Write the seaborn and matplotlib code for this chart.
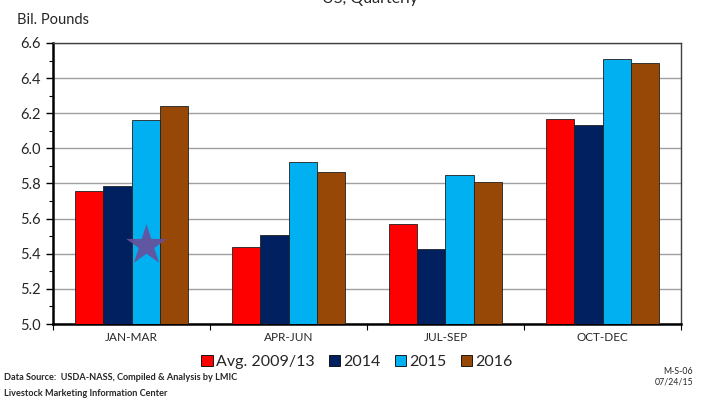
import matplotlib
matplotlib.use("Agg")
import matplotlib.pyplot as plt
import seaborn as sns
import pandas as pd
from matplotlib.patches import Patch
from matplotlib.ticker import MultipleLocator, FixedLocator

quarters = ["JAN-MAR", "APR-JUN", "JUL-SEP", "OCT-DEC"]
series = ["Avg. 2009/13", "2014", "2015", "2016"]
avg_0913 = [5.756, 5.437, 5.568, 6.165]
y2014 = [5.784, 5.507, 5.425, 6.131]
y2015 = [6.160, 5.924, 5.850, 6.507]
y2016 = [6.240, 5.867, 5.810, 6.484]
colors = ["#FF0000", "#002060", "#00B0F0", "#974706"]
yticks = [5.0, 5.2, 5.4, 5.6, 5.8, 6.0, 6.2, 6.4, 6.6]

rows = []
for s, vals in zip(series, [avg_0913, y2014, y2015, y2016]):
    for q, v in zip(quarters, vals):
        rows.append({"Quarter": q, "Series": s, "Value": v})
df = pd.DataFrame(rows)

sns.set_theme(style="white")
plt.rcParams["font.family"] = ["Lato", "DejaVu Sans"]

fig = plt.figure(figsize=(7.11, 4.03), dpi=100)
ax = fig.add_axes([53/711, 1-324/403, (681-53)/711, (324-43)/403])

sns.barplot(data=df, x="Quarter", y="Value", hue="Series", order=quarters,
            hue_order=series, palette=colors, saturation=1, width=0.72, dodge=True,
            edgecolor="#202020", linewidth=0.6, ax=ax, legend=False, zorder=3)

ax.set_ylim(5.0, 6.6)
ax.set_xlim(-0.5, 3.5)
ax.set_yticks(yticks)
ax.set_yticklabels([f"{t:.1f}" for t in yticks], fontsize=10.5)
ax.yaxis.set_minor_locator(MultipleLocator(0.1))
ax.grid(axis="y", color="#A0A0A0", linewidth=1.0, zorder=0)
ax.set_axisbelow(True)

ax.set_xticks(range(len(quarters)))
ax.set_xticklabels(quarters, fontsize=8.5)
ax.xaxis.set_minor_locator(FixedLocator([-0.5, 0.5, 1.5, 2.5, 3.5]))
ax.tick_params(axis="x", which="major", length=0, pad=6)
ax.tick_params(axis="x", which="minor", length=4, width=0.8, direction="out", color="black", bottom=True)
ax.tick_params(axis="y", which="major", length=5, width=1.0, direction="out", color="black", left=True, pad=4)
ax.tick_params(axis="y", which="minor", length=3, width=0.8, direction="out", color="black", left=True)
ax.set_xlabel("")
ax.set_ylabel("")

for side in ["left", "bottom"]:
    ax.spines[side].set_linewidth(1.8)
    ax.spines[side].set_color("black")
for side in ["top", "right"]:
    ax.spines[side].set_linewidth(1.0)
    ax.spines[side].set_color("#404040")

# star marker on the JAN-MAR 2015 bar
ax.scatter([0.09], [5.45], marker="*", s=950, color="#6B4E9B", alpha=0.9, zorder=5, linewidths=0)

fig.text(17/711, 1-20/403, "Bil. Pounds", fontsize=10.5, ha="left", va="center")
fig.text(0.52, 1.0 + 1/403, "US, Quarterly", fontsize=11.5, ha="center", va="center")

handles = [Patch(facecolor=c, edgecolor="black", linewidth=0.6) for c in colors]
fig.legend(handles, series, loc="center", bbox_to_anchor=(357/711, 1-362/403), ncol=4,
           frameon=False, fontsize=11.5, handlelength=0.7, handleheight=0.7,
           handletextpad=0.2, columnspacing=0.9, borderaxespad=0)

fig.text(4/711, 1-377/403, "Data Source:  USDA-NASS, Compiled & Analysis by LMIC", fontsize=6.6,
         fontweight="bold", ha="left", va="center")
fig.text(4/711, 1-393/403, "Livestock Marketing Information Center", fontsize=6.6,
         fontweight="bold", ha="left", va="center")
fig.text(693/711, 1-372/403, "M-S-06", fontsize=6.3, ha="right", va="center")
fig.text(693/711, 1-382/403, "07/24/15", fontsize=6.3, ha="right", va="center")

fig.savefig("out.png", dpi=100)
